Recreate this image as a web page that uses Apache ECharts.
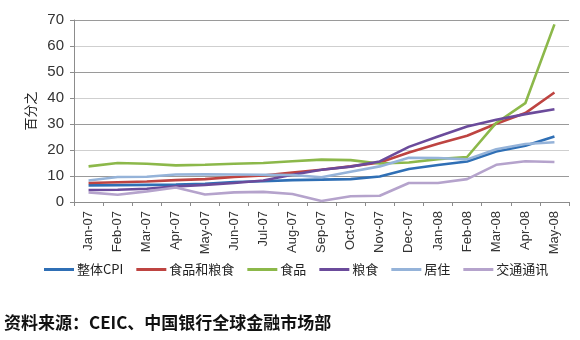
<!DOCTYPE html>
<html>
<head>
<meta charset="utf-8">
<script src="https://cdn.jsdelivr.net/npm/echarts@6/dist/echarts.min.js"></script>
<style>
  html, body { margin: 0; padding: 0; background: #fff; }
  #chart { width: 580px; height: 340px; }
</style>
</head>
<body>
<div id="chart"></div>
<script>
// Months, Jan-07 .. May-08
const months = ['Jan-07','Feb-07','Mar-07','Apr-07','May-07','Jun-07','Jul-07','Aug-07',
  'Sep-07','Oct-07','Nov-07','Dec-07','Jan-08','Feb-08','Mar-08','Apr-08','May-08'];

// Year-on-year change, percent
const cpiAll     = [6.4, 6.5, 6.6, 6.7, 7.0, 7.7, 8.0, 8.4, 8.6, 8.8, 9.8, 12.7, 14.2, 15.6, 19.4, 21.6, 25.2];
const foodGrain  = [7.3, 7.6, 7.9, 8.4, 8.8, 9.6, 10.2, 11.3, 12.4, 13.7, 15.2, 19.0, 22.4, 25.5, 30.1, 34.2, 42.1];
const food       = [13.7, 15.0, 14.7, 14.1, 14.3, 14.7, 15.0, 15.7, 16.3, 16.1, 14.8, 15.2, 16.5, 17.3, 30.4, 38.0, 68.3];
const grain      = [4.6, 4.7, 5.1, 6.0, 6.6, 7.3, 8.3, 10.5, 12.4, 13.6, 15.6, 21.2, 25.2, 29.0, 31.6, 33.8, 35.7];
const housing    = [8.3, 9.6, 9.7, 10.6, 10.7, 10.6, 10.5, 10.4, 9.5, 11.6, 13.7, 17.0, 16.9, 16.4, 20.3, 22.3, 23.0];
const transport  = [3.7, 2.8, 4.1, 5.6, 2.9, 3.7, 3.9, 3.1, 0.4, 2.2, 2.4, 7.3, 7.3, 8.8, 14.3, 15.7, 15.4];

const seriesNames = ['整体CPI', '食品和粮食', '食品', '粮食', '居住', '交通通讯'];
const seriesData = [cpiAll, foodGrain, food, grain, housing, transport];
const colors = ['#2f6fb5', '#be4441', '#8cb84a', '#6b4b9b', '#95b3d9', '#b5a3cc'];

const chart = echarts.init(document.getElementById('chart'), null, { renderer: 'canvas' });

chart.setOption({
  animation: false,
  backgroundColor: '#ffffff',
  color: colors,
  textStyle: { fontFamily: 'Liberation Sans, Arial, sans-serif' },
  title: {
    text: '资料来源：CEIC、中国银行全球金融市场部',
    left: 4,
    top: 314,
    padding: 0,
    textStyle: {
      fontFamily: 'Noto Sans CJK SC',
      fontSize: 17,
      fontWeight: 'bold',
      color: '#111'
    }
  },
  legend: {
    data: seriesNames.map(n => ({ name: n, icon: 'rect' })),
    left: 44,
    top: 263,
    itemWidth: 30,
    itemHeight: 3,
    itemGap: 13,
    padding: 0,
    textStyle: {
      fontFamily: 'Noto Sans CJK SC',
      fontSize: 13,
      color: '#222',
      padding: [0, 0, 0, -2]
    }
  },
  grid: {
    left: 74,
    right: 11,
    top: 20,
    bottom: 138,
    containLabel: false,
    outerBoundsMode: 'none'
  },
  xAxis: {
    type: 'category',
    data: months,
    boundaryGap: true,
    axisLine: { lineStyle: { color: '#8c8c8c', width: 1 } },
    axisTick: { show: true, length: 4, alignWithLabel: false, lineStyle: { color: '#8c8c8c' } },
    axisLabel: {
      rotate: 90,
      interval: 0,
      margin: 9,
      fontSize: 13,
      color: '#333'
    },
    splitLine: { show: false }
  },
  yAxis: {
    type: 'value',
    min: 0,
    max: 70,
    interval: 10,
    name: '百分之',
    nameLocation: 'middle',
    nameRotate: 90,
    nameGap: 36,
    nameTextStyle: { fontFamily: 'Noto Sans CJK SC', fontSize: 13, color: '#222' },
    axisLine: { show: true, lineStyle: { color: '#8c8c8c', width: 1 } },
    axisTick: { show: true, length: 4, lineStyle: { color: '#8c8c8c' } },
    axisLabel: { fontSize: 15, color: '#333', margin: 10 },
    splitLine: { show: true, lineStyle: { color: ['#cfcfcf', '#9a9a9a'], width: 1 } }
  },
  series: seriesNames.map((name, i) => ({
    name: name,
    type: 'line',
    data: seriesData[i],
    symbol: 'none',
    smooth: false,
    lineStyle: { width: 2.6, color: colors[i] },
    itemStyle: { color: colors[i] }
  }))
});
</script>
</body>
</html>
